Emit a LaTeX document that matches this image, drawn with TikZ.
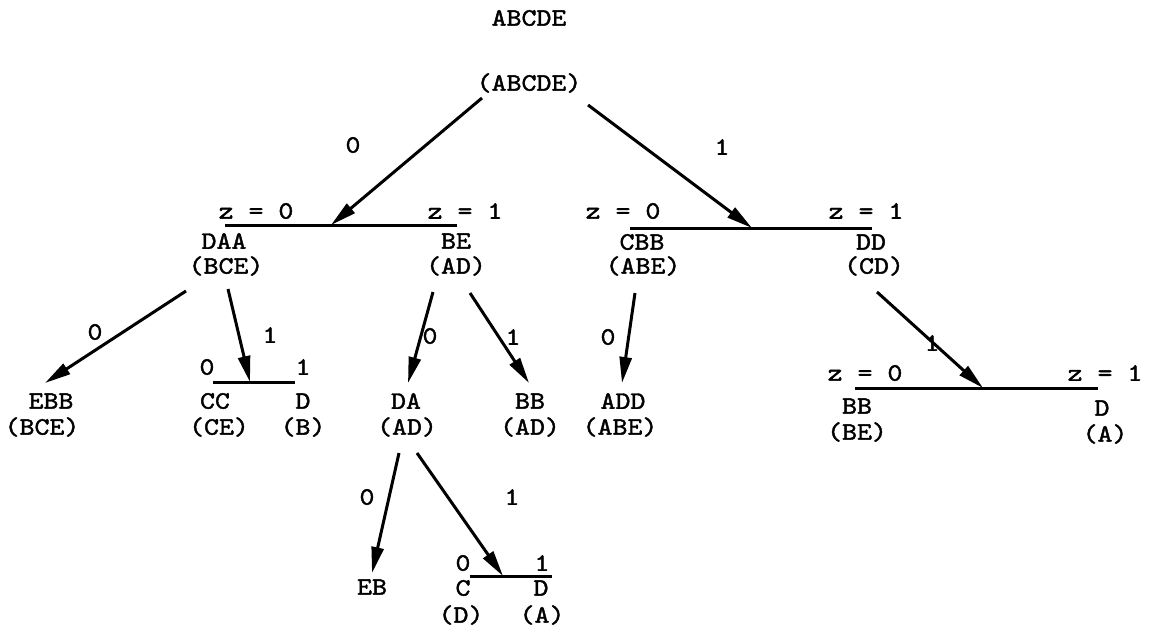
\documentclass[tikz,border=0pt]{standalone}
\usepackage{fontspec}
\newfontfamily\tw{lmmono10-regular}[Extension=.otf,FakeStretch=1.14,FakeBold=1.6]
\usetikzlibrary{arrows.meta}
\begin{document}
\begin{tikzpicture}[x=1pt,y=-1pt,
  lbl/.style={inner sep=0pt,font=\fontsize{25}{28}\tw},
  arr/.style={line width=3pt,-{Triangle[length=26pt,width=12pt]}},
  barline/.style={line width=3pt}]
\useasboundingbox (0,0) rectangle (1150,640);
% ---------- root ----------
\node[lbl] (top) at (529,18) {ABCDE};
\node[lbl] (root) at (529,83) {(ABCDE)};
\node[lbl] (e0) at (353,145) {0};
\node[lbl] (e1) at (722,147) {1};
% ---------- level 1, left bar ----------
\node[lbl] (za0) at (256,211) {z = 0};
\node[lbl] (za1) at (465,211) {z = 1};
\coordinate (baL) at (225,225);
\coordinate (baR) at (457,225);
\coordinate (baT) at (331,225);
\draw[barline] (baL) -- (baR);
\node[lbl] (daa) at (224,241) {DAA};
\node[lbl] (bce) at (226,266) {(BCE)};
\node[lbl] (be) at (456,241) {BE};
\node[lbl] (ad1) at (456,266) {(AD)};
% ---------- level 1, right bar ----------
\node[lbl] (zb0) at (623,211) {z = 0};
\node[lbl] (zb1) at (866,211) {z = 1};
\coordinate (bbL) at (630,228);
\coordinate (bbR) at (872,228);
\coordinate (bbT) at (752,228);
\draw[barline] (bbL) -- (bbR);
\node[lbl] (cbb) at (642,242) {CBB};
\node[lbl] (abe) at (643,266) {(ABE)};
\node[lbl] (dd) at (871,242) {DD};
\node[lbl] (cd) at (874,266) {(CD)};
% root arrows
\coordinate (r0) at (482,98);
\coordinate (r1) at (588,105);
\draw[arr] (r0) -- (baT);
\draw[arr] (r1) -- (bbT);
% ---------- under (BCE) ----------
\coordinate (s1) at (186,291);
\coordinate (s2) at (228,289);
\node[lbl] (ebb) at (51,401) {EBB};
\node[lbl] (bce2) at (42,427) {(BCE)};
\node[lbl] (f0) at (95,332) {0};
\node[lbl] (f1) at (270,335) {1};
\node[lbl] (zc0) at (207,367) {0};
\node[lbl] (zc1) at (303,367) {1};
\coordinate (bcL) at (213,382);
\coordinate (bcR) at (295,382);
\coordinate (bcT) at (250,382);
\draw[barline] (bcL) -- (bcR);
\node[lbl] (cc) at (215,401) {CC};
\node[lbl] (d1) at (303,401) {D};
\node[lbl] (ce) at (219,427) {(CE)};
\node[lbl] (b1) at (303,427) {(B)};
\coordinate (ebbT) at (45,383);
\draw[arr] (s1) -- (ebbT);
\draw[arr] (s2) -- (bcT);
% ---------- under (AD) ----------
\coordinate (s3) at (433,292);
\coordinate (s4) at (470,293);
\node[lbl] (g0) at (430,336) {0};
\node[lbl] (g1) at (513,337) {1};
\node[lbl] (da) at (406,401) {DA};
\node[lbl] (ad2) at (407,427) {(AD)};
\node[lbl] (bb1) at (530,401) {BB};
\node[lbl] (ad3) at (530,427) {(AD)};
\coordinate (daT) at (408,383);
\coordinate (bbT1) at (529,383);
\draw[arr] (s3) -- (daT);
\draw[arr] (s4) -- (bbT1);
% ---------- under (ABE) ----------
\coordinate (s5) at (635,293);
\node[lbl] (h0) at (608,337) {0};
\node[lbl] (add) at (623,401) {ADD};
\node[lbl] (abe2) at (620,427) {(ABE)};
\coordinate (addT) at (622,383);
\draw[arr] (s5) -- (addT);
% ---------- under (CD) ----------
\coordinate (s6) at (877,292);
\node[lbl] (k1) at (932,343) {1};
\node[lbl] (zd0) at (865,373) {z = 0};
\node[lbl] (zd1) at (1105,373) {z = 1};
\coordinate (bdL) at (855,388);
\coordinate (bdR) at (1098,388);
\coordinate (bdT) at (983,388);
\draw[barline] (bdL) -- (bdR);
\node[lbl] (bb2) at (857,406) {BB};
\node[lbl] (be2) at (857,432) {(BE)};
\node[lbl] (d2) at (1102,408) {D};
\node[lbl] (a1) at (1105,434) {(A)};
\draw[arr] (s6) -- (bdT);
% ---------- under lower (AD) ----------
\coordinate (s7) at (399,453);
\coordinate (s8) at (417,453);
\node[lbl] (m0) at (367,497) {0};
\node[lbl] (m1) at (512,497) {1};
\node[lbl] (ze0) at (463,563) {0};
\node[lbl] (ze1) at (542,563) {1};
\coordinate (beL) at (470,576);
\coordinate (beR) at (552,576);
\coordinate (beT) at (503,576);
\draw[barline] (beL) -- (beR);
\node[lbl] (eb) at (372,587) {EB};
\node[lbl] (c1) at (463,588) {C};
\node[lbl] (d3) at (541,588) {D};
\node[lbl] (dp) at (461,615) {(D)};
\node[lbl] (ap) at (542,615) {(A)};
\coordinate (ebT) at (372,573);
\draw[arr] (s7) -- (ebT);
\draw[arr] (s8) -- (beT);
\end{tikzpicture}
\end{document}
